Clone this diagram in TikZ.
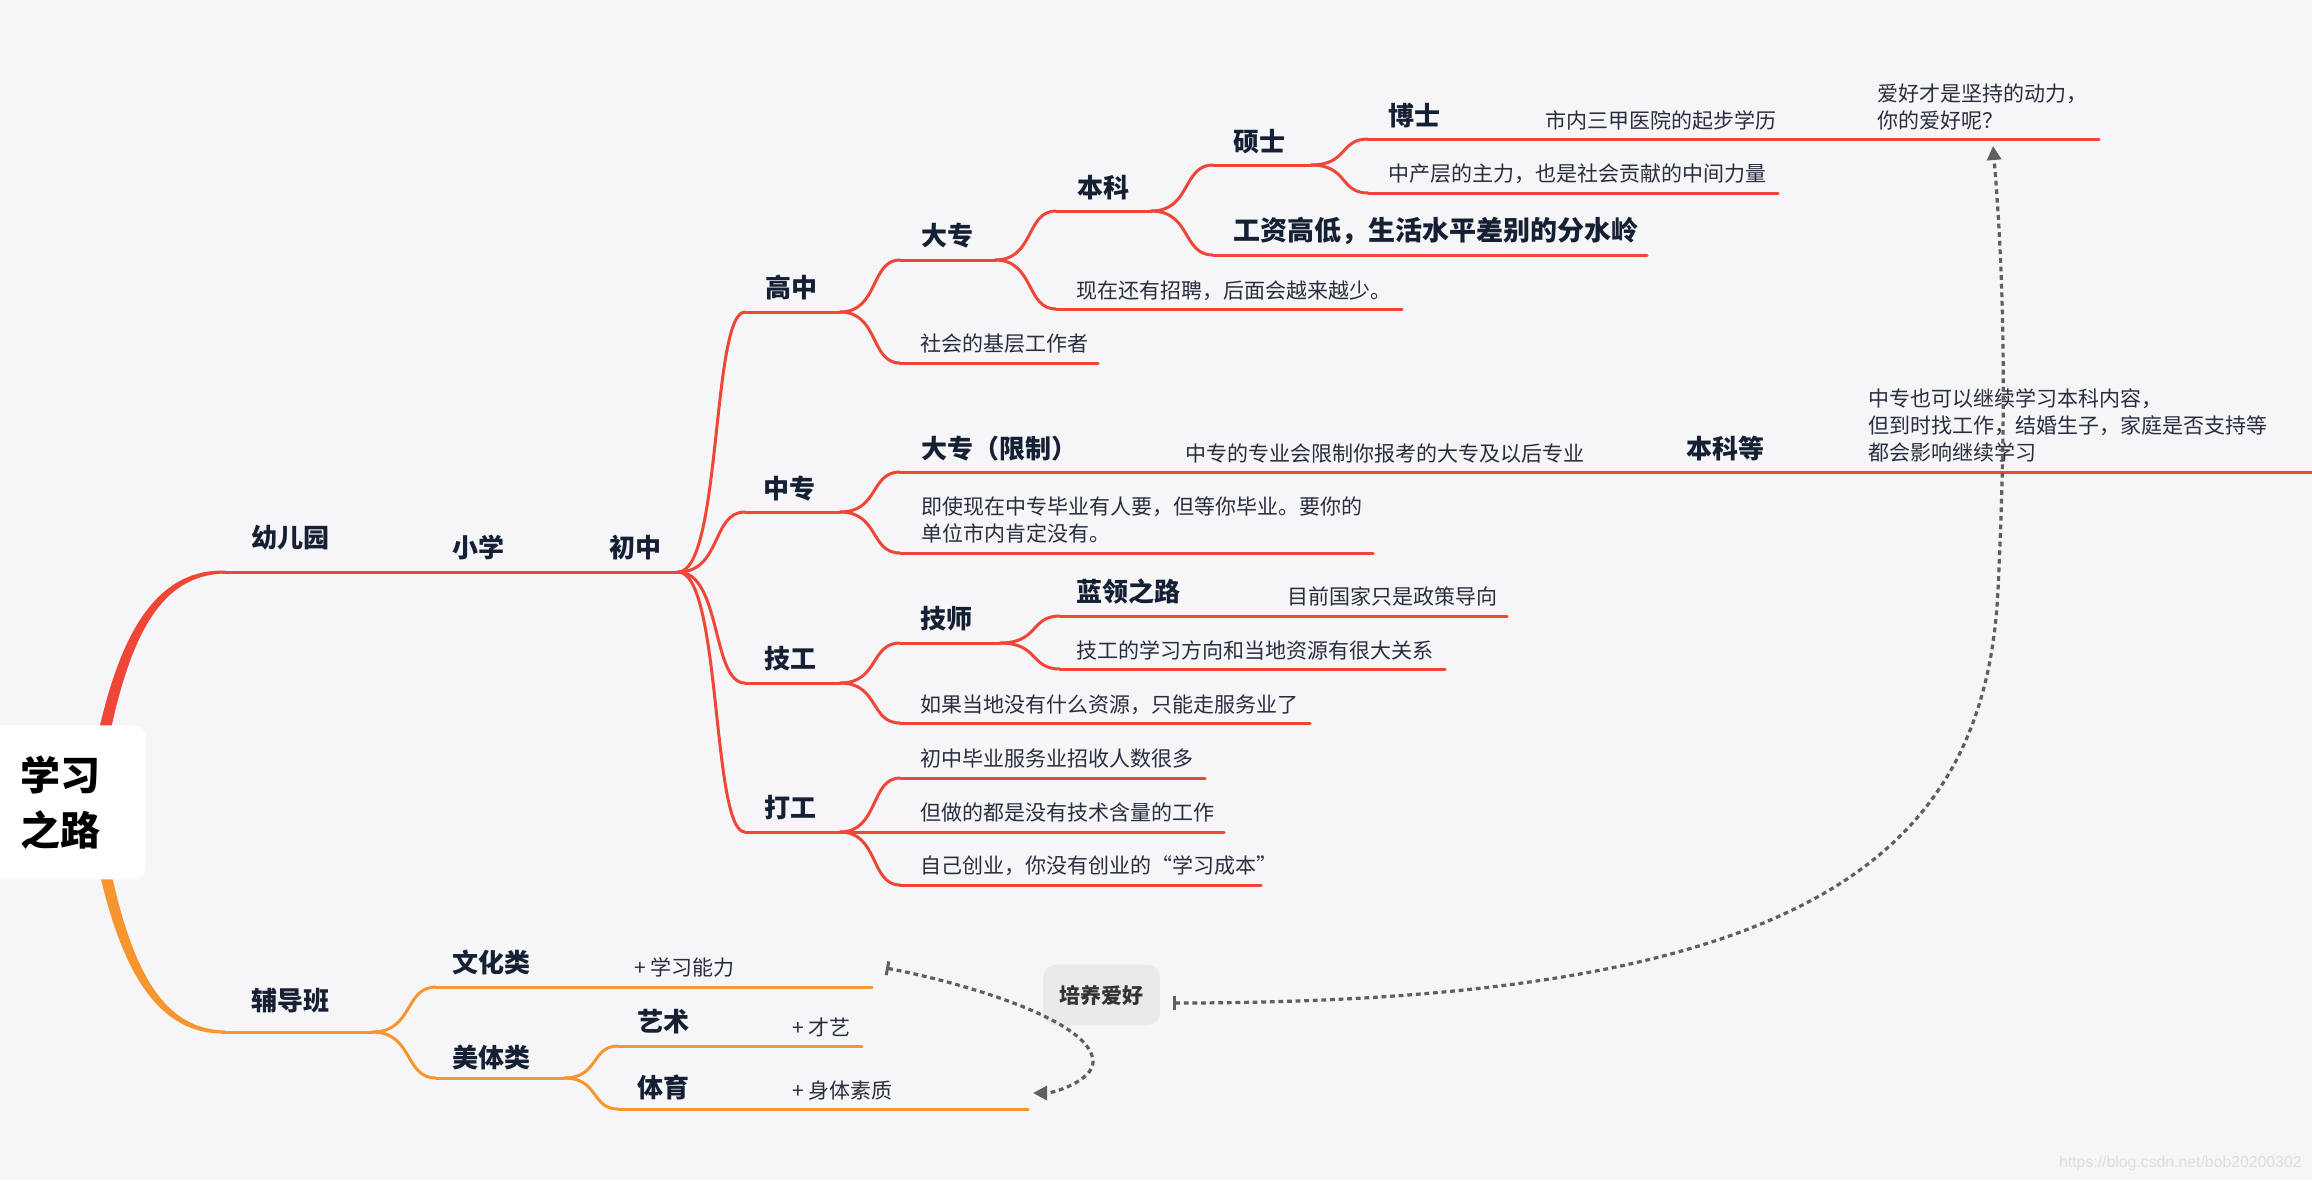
\documentclass[tikz,border=0pt]{standalone}
\usepackage{fontspec}
\setmainfont{Noto Sans CJK SC}
\newfontfamily\wmfont{Liberation Sans}
\usetikzlibrary{calc,arrows.meta}
\definecolor{bgc}{RGB}{246,246,249}
\definecolor{redc}{RGB}{240,70,56}
\definecolor{orgc}{RGB}{247,150,46}
\definecolor{labc}{RGB}{22,32,52}
\definecolor{notec}{RGB}{40,46,62}
\definecolor{dashc}{RGB}{95,95,95}
\definecolor{wmc}{RGB}{222,222,226}
\definecolor{hobc}{RGB}{234,234,234}
\definecolor{hobt}{RGB}{51,51,51}
\newcommand\mlines[1]{\begin{tabular}[b]{@{}l@{}}#1\end{tabular}}
\begin{document}
\begin{tikzpicture}[x=0.5pt,y=-0.5pt,
 rl/.style={draw=redc,line width=1.5pt,line cap=round},
 ol/.style={draw=orgc,line width=1.5pt,line cap=round},
 lab/.style={anchor=base west,inner sep=0pt,text=labc,font=\fontsize{13pt}{16pt}\selectfont\bfseries},
 note/.style={anchor=base west,inner sep=0pt,text=notec,font=\fontsize{10.5pt}{13.5pt}\selectfont},
 sbr/.style={to path={.. controls ($(\tikztostart)!0.65!(\tikztotarget|-\tikztostart)$) and ($(\tikztotarget)!0.5!(\tikztostart|-\tikztotarget)$) .. (\tikztotarget)}},
 rel/.style={draw=dashc,line width=1.6pt,dash pattern=on 2.4pt off 1.9pt,arrows={Bar[width=7pt,line width=1.5pt]-Triangle[length=7pt,width=7pt]}}
]
\useasboundingbox (0,0) rectangle (2312,1180);
\fill[bgc] (0,0) rectangle (2312,1180);

% ---- tapered trunks from the root
\fill[redc] (86,800) .. controls (109,648) and (148,569) .. (225,570.5) -- (225,573.5) .. controls (152,575) and (121,652) .. (98,800) -- cycle;
\fill[orgc] (86,800) .. controls (109,952) and (148,1035) .. (225,1033.5) -- (225,1030.5) .. controls (152,1029) and (121,948) .. (98,800) -- cycle;

% ---- coordinates of topic underlines
\coordinate (yeyS) at (222,572); \coordinate (yeyE) at (360,572);
\coordinate (xxS) at (430,572);  \coordinate (xxE) at (530,572);
\coordinate (czS) at (590,572);  \coordinate (czE) at (678,572);

\coordinate (gzS) at (745,312); \coordinate (gzE) at (840,312);
\coordinate (zzS) at (745,512); \coordinate (zzE) at (840,512);
\coordinate (jgS) at (745,683); \coordinate (jgE) at (840,683);
\coordinate (dgS) at (745,832); \coordinate (dgE) at (840,832);

\coordinate (dzS) at (900,260);  \coordinate (dzE) at (995,260);
\coordinate (shS) at (900,363);  \coordinate (shE) at (1098,363);
\coordinate (dxS) at (900,472);  \coordinate (dxE) at (1096,472);
\coordinate (jsS) at (900,553);  \coordinate (jsE) at (1373,553);
\coordinate (jshS) at (900,643); \coordinate (jshE) at (1000,643);
\coordinate (rgS) at (900,723);  \coordinate (rgE) at (1310,723);
\coordinate (cbS) at (900,778);  \coordinate (cbE) at (1205,778);
\coordinate (zdS) at (900,832);  \coordinate (zdE) at (1224,832);
\coordinate (cyeS) at (900,885); \coordinate (cyeE) at (1261,885);

\coordinate (bkS) at (1056,211); \coordinate (bkE) at (1151,211);
\coordinate (xzS) at (1056,309); \coordinate (xzE) at (1402,309);
\coordinate (llS) at (1060,616); \coordinate (llE) at (1195,616);
\coordinate (mqS) at (1272,616); \coordinate (mqE) at (1507,616);
\coordinate (jxS) at (1060,669); \coordinate (jxE) at (1445,669);

\coordinate (ssS) at (1213,165); \coordinate (ssE) at (1311,165);
\coordinate (gdS) at (1213,255); \coordinate (gdE) at (1647,255);

\coordinate (bsS) at (1368,139); \coordinate (bsE) at (1455,139);
\coordinate (snS) at (1532,139); \coordinate (snE) at (1786,139);
\coordinate (ahS) at (1865,139); \coordinate (ahE) at (2099,139);
\coordinate (zcS) at (1368,193); \coordinate (zcE) at (1778,193);

\coordinate (zyS) at (1172,472); \coordinate (zyE) at (1595,472);
\coordinate (bdS) at (1673,472); \coordinate (bdE) at (1778,472);
\coordinate (zxS) at (1856,472); \coordinate (zxE) at (2330,472);

\coordinate (fdS) at (222,1032); \coordinate (fdE) at (372,1032);
\coordinate (whS) at (436,987);  \coordinate (whE) at (544,987);
\coordinate (xnS) at (624,987);  \coordinate (xnE) at (872,987);
\coordinate (mtS) at (436,1078); \coordinate (mtE) at (564,1078);
\coordinate (ysS) at (618,1046); \coordinate (ysE) at (700,1046);
\coordinate (cyS) at (777,1046); \coordinate (cyE) at (862,1046);
\coordinate (tyS) at (618,1109); \coordinate (tyE) at (700,1109);
\coordinate (szS) at (777,1109); \coordinate (szE) at (1028,1109);

% ---- underlines (red)
\foreach \n in {yey,xx,cz,gz,zz,jg,dg,dz,sh,dx,js,jsh,rg,cb,zd,cye,bk,xz,ll,mq,jx,ss,gd,bs,sn,ah,zc,zy,bd,zx}
  \draw[rl] (\n S) -- (\n E);
% ---- underlines (orange)
\foreach \n in {fd,wh,xn,mt,ys,cy,ty,sz}
  \draw[ol] (\n S) -- (\n E);

% ---- red connectors
\draw[rl] (yeyE) to[sbr] (xxS);
\draw[rl] (xxE) to[sbr] (czS);
\foreach \c in {gz,zz,jg,dg} \draw[rl] (czE) to[sbr] (\c S);
\foreach \c in {dz,sh} \draw[rl] (gzE) to[sbr] (\c S);
\foreach \c in {dx,js} \draw[rl] (zzE) to[sbr] (\c S);
\foreach \c in {jsh,rg} \draw[rl] (jgE) to[sbr] (\c S);
\foreach \c in {cb,zd,cye} \draw[rl] (dgE) to[sbr] (\c S);
\foreach \c in {bk,xz} \draw[rl] (dzE) to[sbr] (\c S);
\foreach \c in {ss,gd} \draw[rl] (bkE) to[sbr] (\c S);
\foreach \c in {bs,zc} \draw[rl] (ssE) to[sbr] (\c S);
\draw[rl] (bsE) to[sbr] (snS);
\draw[rl] (snE) to[sbr] (ahS);
\draw[rl] (dxE) to[sbr] (zyS);
\draw[rl] (zyE) to[sbr] (bdS);
\draw[rl] (bdE) to[sbr] (zxS);
\foreach \c in {ll,jx} \draw[rl] (jshE) to[sbr] (\c S);
\draw[rl] (llE) to[sbr] (mqS);
% ---- orange connectors
\foreach \c in {wh,mt} \draw[ol] (fdE) to[sbr] (\c S);
\draw[ol] (whE) to[sbr] (xnS);
\foreach \c in {ys,ty} \draw[ol] (mtE) to[sbr] (\c S);
\draw[ol] (ysE) to[sbr] (cyS);
\draw[ol] (tyE) to[sbr] (szS);

% ---- root
\node[fill=white,rounded corners=6pt,anchor=north west,minimum width=82.5pt,minimum height=77pt,inner sep=0pt] (root) at (-20,725) {};
\node[anchor=base west,inner sep=0pt,text=black,font=\fontsize{20pt}{27.5pt}\selectfont\bfseries] (rootT) at (20,845) {\mlines{学习\\之路}};

% ---- labels
\node[lab] (tYey) at (251,547) {幼儿园};
\node[lab] (tXx) at (452,557) {小学};
\node[lab] (tCz) at (609,557) {初中};
\node[lab] (tGz) at (765,297) {高中};
\node[lab] (tZz) at (763,498) {中专};
\node[lab] (tJg) at (764,668) {技工};
\node[lab] (tDg) at (764,817) {打工};
\node[lab] (tDz) at (921,245) {大专};
\node[note] (tSh) at (920,351) {社会的基层工作者};
\node[lab] (tDx) at (921,458) {大专（限制）};
\node[note] (tJs) at (921,541) {\mlines{即使现在中专毕业有人要，但等你毕业。要你的\\单位市内肯定没有。}};
\node[lab] (tJsh) at (920,628) {技师};
\node[note] (tRg) at (920,712) {如果当地没有什么资源，只能走服务业了};
\node[note] (tCb) at (920,766) {初中毕业服务业招收人数很多};
\node[note] (tZd) at (920,820) {但做的都是没有技术含量的工作};
\node[note] (tCye) at (920,873) {自己创业，你没有创业的“学习成本”};
\node[lab] (tBk) at (1077,197) {本科};
\node[note] (tXz) at (1076,298) {现在还有招聘，后面会越来越少。};
\node[lab] (tLl) at (1076,601) {蓝领之路};
\node[note] (tMq) at (1287,604) {目前国家只是政策导向};
\node[note] (tJx) at (1076,658) {技工的学习方向和当地资源有很大关系};
\node[lab] (tSs) at (1233,151) {硕士};
\node[lab,font=\fontsize{13.5pt}{16pt}\selectfont\bfseries] (tGd) at (1233,240) {工资高低，生活水平差别的分水岭};
\node[lab] (tBs) at (1388,125) {博士};
\node[note] (tSn) at (1545,128) {市内三甲医院的起步学历};
\node[note] (tAh) at (1877,128) {\mlines{爱好才是坚持的动力，\\你的爱好呢？}};
\node[note] (tZc) at (1388,181) {中产层的主力，也是社会贡献的中间力量};
\node[note] (tZy) at (1185,461) {中专的专业会限制你报考的大专及以后专业};
\node[lab] (tBd) at (1686,458) {本科等};
\node[note] (tZx) at (1868,460) {\mlines{中专也可以继续学习本科内容，\\但到时找工作，结婚生子，家庭是否支持等\\都会影响继续学习}};
\node[lab] (tFd) at (251,1010) {辅导班};
\node[lab] (tWh) at (452,972) {文化类};
\node[note] (tXn) at (634,975) {+ 学习能力};
\node[lab] (tMt) at (452,1067) {美体类};
\node[lab] (tYs) at (637,1031) {艺术};
\node[note] (tCy) at (792,1035) {+ 才艺};
\node[lab] (tTy) at (637,1097) {体育};
\node[note] (tSz) at (792,1098) {+ 身体素质};

% ---- floating topic and relationships
\node[fill=hobc,rounded corners=6pt,minimum width=58.5pt,minimum height=30pt,inner sep=0pt,text=hobt,font=\fontsize{10.5pt}{12pt}\selectfont\bfseries] (hob) at (1101.5,995) {培养爱好};
\coordinate (r1s) at (1173,1003);
\coordinate (r1m) at (1998,590);
\coordinate (r1e) at (1993,146);
\draw[rel] (r1s) .. controls (1800,1003) and (1985,860) .. (r1m) .. controls (2006,420) and (2005,290) .. (r1e);
\coordinate (r2s) at (886,968);
\coordinate (r2m) at (1093,1062);
\coordinate (r2e) at (1033,1093);
\draw[rel] (r2s) .. controls (960,982) and (1093,1020) .. (r2m) .. controls (1093,1080) and (1055,1093) .. (r2e);

% ---- watermark
\node[anchor=base east,inner sep=0pt,text=wmc,font=\wmfont\fontsize{7.9pt}{9pt}\selectfont] (wm) at (2302,1167) {https://blog.csdn.net/bob20200302};
\end{tikzpicture}
\end{document}
